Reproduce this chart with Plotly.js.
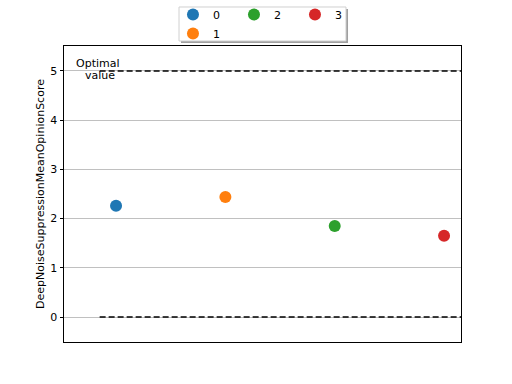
<!DOCTYPE html>
<html>
<head>
<meta charset="utf-8">
<script src="https://cdn.plot.ly/plotly-3.0.1.min.js"></script>
<style>html,body{margin:0;padding:0;background:#fff;}#chart{width:512px;height:384px;}</style>
</head>
<body>
<div id="chart"></div>
<script>
// ---- data ----
const categories = ['0', '1', '2', '3'];
const xPositions = [0, 1, 2, 3];
const scores = [2.26, 2.44, 1.85, 1.65];
const legendGroups = ['g0', 'g0', 'g1', 'g2'];
const optimalValue = 5;
const lowerValue = 0;
const refLineStart = -0.15;
const yTicks = [0, 1, 2, 3, 4, 5];
const palette = ['#1f77b4', '#ff7f0e', '#2ca02c', '#d62728'];

const traces = categories.map((c, i) => ({
  type: 'scatter',
  mode: 'markers',
  name: c,
  x: [xPositions[i]],
  y: [scores[i]],
  legendgroup: legendGroups[i],
  marker: {color: palette[i], size: 12},
  hoverinfo: 'skip'
}));

const xMax = 3.155;
const layout = {
  width: 512, height: 384,
  margin: {l: 64, r: 51, t: 46, b: 42, autoexpand: false},
  paper_bgcolor: '#ffffff', plot_bgcolor: '#ffffff',
  font: {family: 'DejaVu Sans', size: 11, color: '#000'},
  showlegend: true,
  legend: {
    orientation: 'h', traceorder: 'grouped',
    x: 0.505, xanchor: 'center', y: 0.9932, yanchor: 'bottom',
    bgcolor: 'rgba(0,0,0,0)', borderwidth: 0,
    font: {family: 'DejaVu Sans', size: 11, color: '#000'},
    entrywidth: 16, tracegroupgap: 0, itemclick: false
  },
  xaxis: {
    range: [-0.476, xMax], showgrid: false, zeroline: false,
    showticklabels: false, ticks: '', showline: true, mirror: true,
    linecolor: '#000', linewidth: 1
  },
  yaxis: {
    range: [-0.508, 5.508], tickvals: yTicks, ticktext: yTicks.map(String),
    showgrid: true, gridcolor: '#b0b0b0', gridwidth: 0.8, zeroline: false,
    ticks: 'outside', ticklen: 3.5, tickcolor: '#000',
    showline: true, mirror: true, linecolor: '#000', linewidth: 1,
    tickfont: {family: 'DejaVu Sans', size: 11, color: '#000'},
    title: {text: 'DeepNoiseSuppressionMeanOpinionScore', standoff: 3,
      font: {family: 'DejaVu Sans', size: 11, color: '#000'}}
  },
  shapes: [
    // legend shadow and frame
    {type: 'rect', xref: 'paper', yref: 'paper', layer: 'above',
     x0: 0.2947, x1: 0.7154, y0: 1.0101, y1: 1.125,
     fillcolor: '#a0a0a0', line: {width: 0}},
    {type: 'rect', xref: 'paper', yref: 'paper', layer: 'above',
     x0: 0.2897, x1: 0.7103, y0: 1.0169, y1: 1.1318,
     fillcolor: '#ffffff', line: {color: '#d0d0d0', width: 1}},
    {type: 'line', xref: 'x', yref: 'y', x0: refLineStart, x1: xMax, y0: optimalValue, y1: optimalValue,
     line: {color: '#000', width: 1.5, dash: '6px,3px'}},
    {type: 'line', xref: 'x', yref: 'y', x0: refLineStart, x1: xMax, y0: lowerValue, y1: lowerValue,
     line: {color: '#000', width: 1.5, dash: '6px,3px'}}
  ],
  annotations: [
    {xref: 'x', yref: 'y', x: -0.165, y: optimalValue, text: 'Optimal', showarrow: false,
     xanchor: 'center', yanchor: 'middle', yshift: 7,
     font: {family: 'DejaVu Sans', size: 11, color: '#000'}},
    {xref: 'x', yref: 'y', x: -0.146, y: optimalValue, text: 'value', showarrow: false,
     xanchor: 'center', yanchor: 'middle', yshift: -5,
     font: {family: 'DejaVu Sans', size: 11, color: '#000'}}
  ]
};

Plotly.newPlot('chart', traces, layout, {staticPlot: true, displayModeBar: false});
</script>
</body>
</html>
